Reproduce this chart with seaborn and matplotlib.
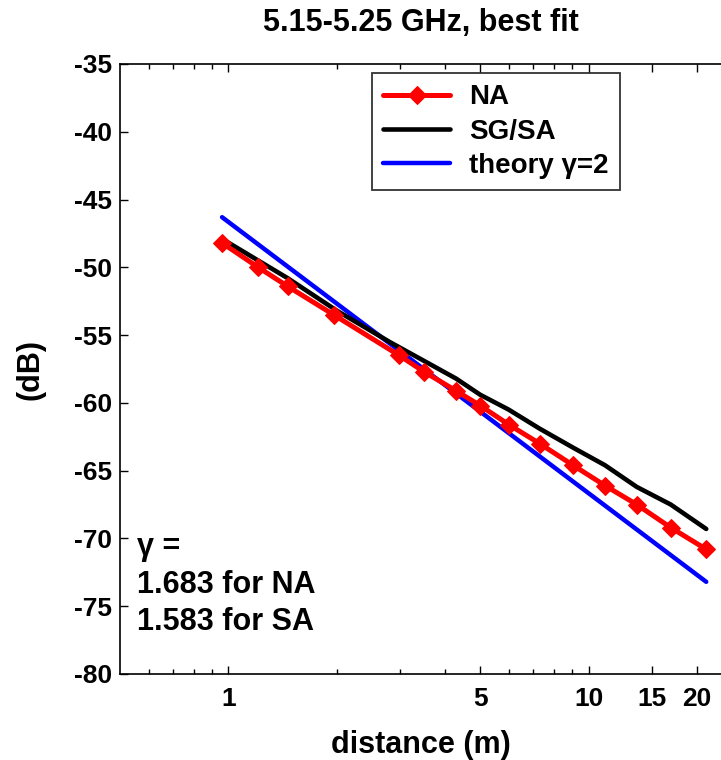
import matplotlib
matplotlib.use("Agg")
import matplotlib.pyplot as plt
import seaborn as sns
import pandas as pd
from matplotlib.ticker import FixedLocator, FixedFormatter, NullFormatter

# Data
na_dist = [0.96, 1.21, 1.46, 1.96, 2.98, 3.49, 4.28, 5.0, 6.0, 7.31, 9.05, 11.1, 13.6, 16.9, 21.2]
na_db = [-48.2, -50.0, -51.4, -53.5, -56.5, -57.7, -59.1, -60.2, -61.6, -63.0, -64.6, -66.1, -67.5, -69.2, -70.8]

sa_dist = [0.96, 1.21, 1.46, 2.0, 2.8, 3.49, 4.28, 5.0, 6.0, 7.31, 9.05, 11.1, 13.6, 16.9, 21.2]
sa_db = [-47.9, -49.5, -50.8, -53.2, -55.5, -56.9, -58.2, -59.4, -60.5, -61.9, -63.3, -64.6, -66.2, -67.5, -69.3]

th_dist = [0.96, 21.2]
th_db = [-46.3, -73.2]

x_ticks = [1, 5, 10, 15, 20]
x_ticklabels = ["1", "5", "10", "15", "20"]
y_ticks = [-80, -75, -70, -65, -60, -55, -50, -45, -40, -35]

sns.set_theme(style="white")
plt.rcParams['font.family'] = ['Liberation Sans', 'DejaVu Sans']
plt.rcParams['font.weight'] = 'bold'
plt.rcParams['text.color'] = 'black'
plt.rcParams['axes.labelcolor'] = 'black'
plt.rcParams['xtick.color'] = 'black'
plt.rcParams['ytick.color'] = 'black'

fig = plt.figure(figsize=(7.21, 7.6), dpi=100)
ax = fig.add_axes([120 / 721, (760 - 674) / 760, 601 / 721, 610 / 760])

df_na = pd.DataFrame({"d": na_dist, "p": na_db})
df_sa = pd.DataFrame({"d": sa_dist, "p": sa_db})
df_th = pd.DataFrame({"d": th_dist, "p": th_db})

sns.lineplot(data=df_na, x="d", y="p", ax=ax, color="#ff0000", lw=3.6,
             marker="D", markersize=9, markeredgecolor="#ff0000", label="NA", zorder=3)
sns.lineplot(data=df_sa, x="d", y="p", ax=ax, color="black", lw=3.3, label="SG/SA", zorder=2)
sns.lineplot(data=df_th, x="d", y="p", ax=ax, color="#0000ff", lw=3.2, label="theory γ=2", zorder=1)

ax.set_xscale("log")
ax.set_xlim(0.5, 23.3)
ax.set_ylim(-80, -35)
ax.xaxis.set_major_locator(FixedLocator(x_ticks))
ax.xaxis.set_major_formatter(FixedFormatter(x_ticklabels))
ax.xaxis.set_minor_locator(FixedLocator([0.6, 0.7, 0.8, 0.9, 2, 3, 4, 6, 7, 8, 9]))
ax.xaxis.set_minor_formatter(NullFormatter())
ax.set_yticks(y_ticks)
ax.set_yticklabels([str(v) for v in y_ticks])

ax.tick_params(axis="both", which="major", direction="in", length=6, width=1,
               labelsize=19, top=True, bottom=True, left=True, right=False, pad=6,
               color="black", labelcolor="black")
ax.tick_params(axis="x", which="minor", direction="in", length=3.5, width=1,
               top=True, bottom=True, color="black")
ax.tick_params(axis="x", which="major", pad=9)
for lab in ax.get_xticklabels() + ax.get_yticklabels():
    lab.set_fontweight("bold")

for s in ["left", "bottom", "top"]:
    ax.spines[s].set_color("black")
    ax.spines[s].set_linewidth(1.2)
ax.spines["right"].set_visible(False)

ax.set_xlabel("distance (m)", fontsize=22, fontweight="bold", labelpad=14)
ax.set_ylabel("(dB)", fontsize=22, fontweight="bold", labelpad=20)
ax.set_title("5.15-5.25 GHz, best fit", fontsize=22, fontweight="bold", pad=24)

leg = ax.legend(loc="upper right", bbox_to_anchor=(0.832, 0.985), fontsize=20,
                frameon=True, fancybox=False, edgecolor="black", handlelength=2.4,
                borderpad=0.4, labelspacing=0.3, handletextpad=0.7, borderaxespad=0)
leg.get_frame().set_linewidth(1.3)
for t in leg.get_texts():
    t.set_fontweight("bold")
    t.set_color("black")

ax.text(0.028, 0.232, "γ =\n1.683 for NA\n1.583 for SA", transform=ax.transAxes,
        fontsize=22, fontweight="bold", va="top", ha="left", linespacing=1.32, color="black")

fig.savefig("out.png", dpi=100)
